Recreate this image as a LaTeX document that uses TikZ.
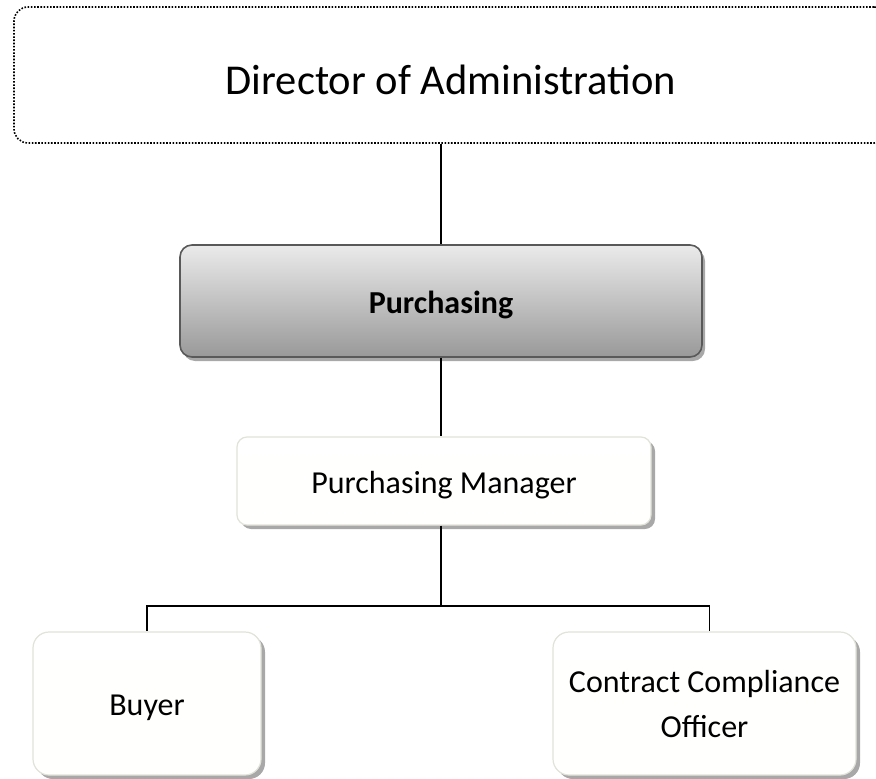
\documentclass[tikz,border=0pt]{standalone}
\usepackage{fontspec}
\setmainfont{Carlito}
\usetikzlibrary{shadows}
\definecolor{shadowgray}{HTML}{A8A8A8}
\definecolor{lightedge}{HTML}{E2E2DA}
\newcommand{\lowertext}[2]{\raisebox{-#1}[\height][\depth]{#2}}
\tikzset{
  topbox/.style={draw=black, line width=1.6pt, dash pattern=on 1.6pt off 1.6pt, rounded corners=14pt, fill=white, font=\fontsize{42.5}{50}\selectfont},
  darkbox/.style={draw=black!65, line width=1.6pt, rounded corners=12pt, top color=black!8, bottom color=black!40, font=\fontsize{32}{38}\selectfont\bfseries, drop shadow={shadow xshift=3pt, shadow yshift=-4pt, fill=shadowgray, opacity=1}},
  lightbox/.style={draw=lightedge, line width=1.2pt, top color=white, bottom color=black!3!yellow!1!white, font=\fontsize{32}{45}\selectfont, align=center, drop shadow={shadow xshift=4pt, shadow yshift=-4pt, fill=shadowgray, opacity=1}},
  conn/.style={draw=black, line width=1.3pt},
}
\begin{document}
\begin{tikzpicture}[x=1pt,y=-1pt]
\useasboundingbox (0,0) rectangle (876,779);
\clip (0,0) rectangle (876,779);
\node[topbox, minimum width=874pt, minimum height=136pt, inner sep=0pt] (dir) at (451,75) {\lowertext{5pt}{Director of Administration}};
\node[darkbox, minimum width=522pt, minimum height=112pt, inner sep=0pt] (purch) at (441,301) {\lowertext{4pt}{Purchasing}};
\node[lightbox, rounded corners=10pt, minimum width=414pt, minimum height=88pt, inner sep=0pt] (mgr) at (444,481) {\lowertext{4pt}{Purchasing Manager}};
\node[lightbox, rounded corners=16pt, minimum width=228pt, minimum height=143pt, inner sep=0pt] (buyer) at (147,703.5) {\lowertext{4pt}{Buyer}};
\node[lightbox, rounded corners=16pt, minimum width=303pt, minimum height=143pt, inner sep=0pt] (cco) at (704.5,703.5) {Contract Compliance\\Officer};
\coordinate (bus) at (441,606);
\draw[conn] (dir.south -| purch.north) -- (purch.north);
\draw[conn] (purch.south) -- (purch.south |- mgr.north);
\draw[conn] (purch.south |- mgr.south) -- (bus);
\draw[conn] (bus) -| (buyer.north);
\draw[conn] (bus) -| ([xshift=5pt]cco.north);
\end{tikzpicture}
\end{document}
